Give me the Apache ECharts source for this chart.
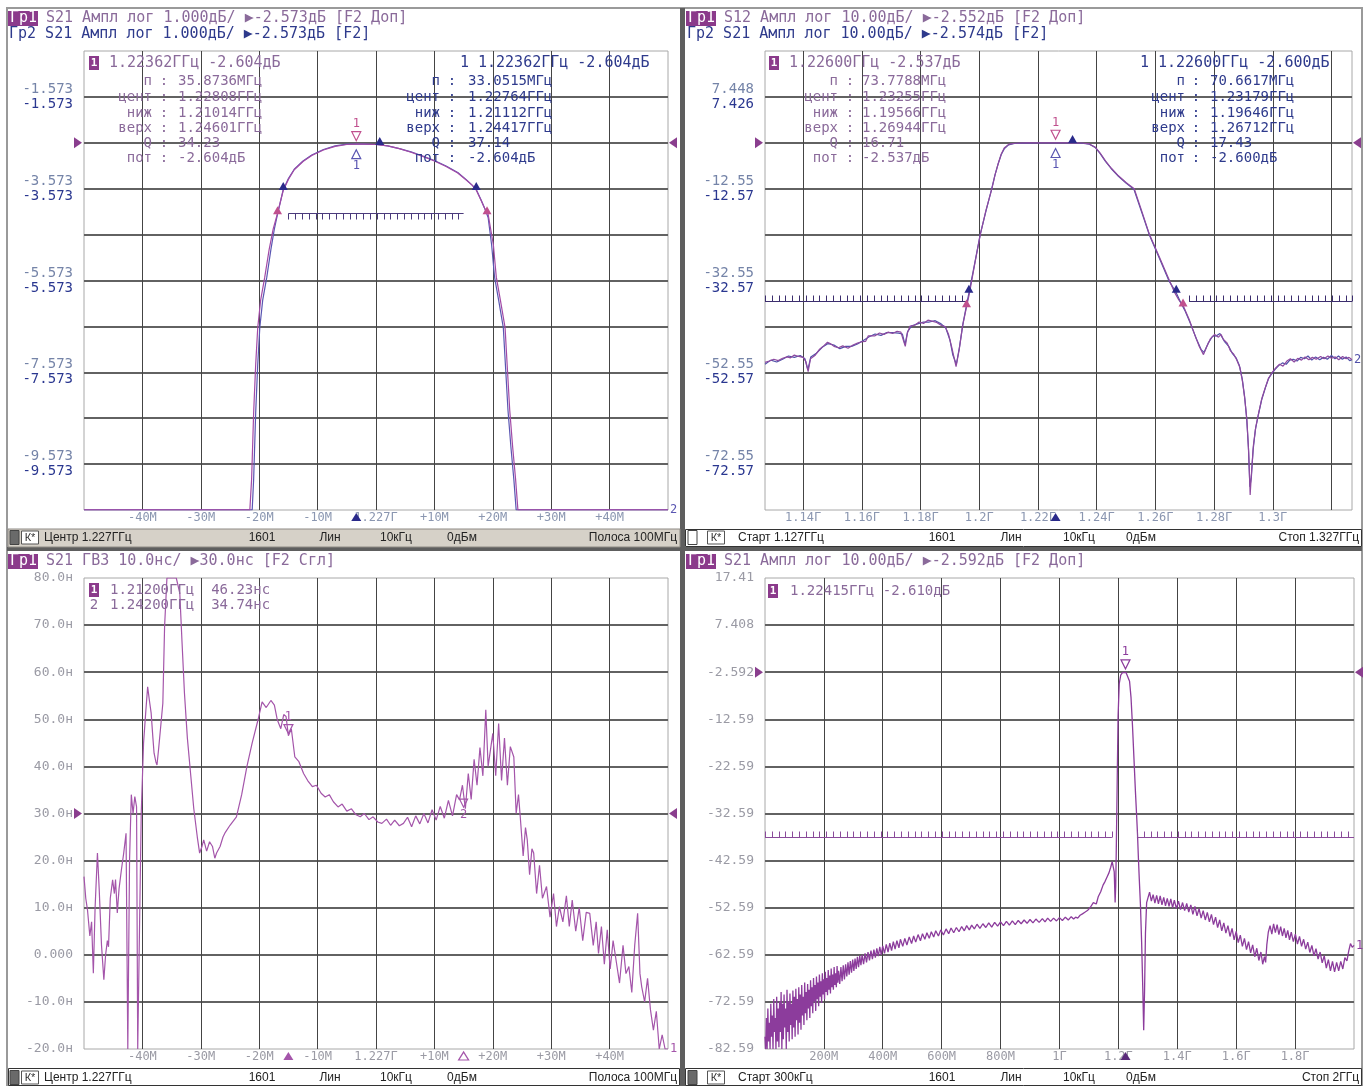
<!DOCTYPE html>
<html><head><meta charset="utf-8">
<script src="https://cdn.jsdelivr.net/npm/echarts@6/dist/echarts.min.js"></script>
<style>html,body{margin:0;padding:0;background:#fff}#c{width:1369px;height:1086px}</style>
</head><body><div id="c"></div><script>
// ---------------- DATA ----------------
// Top-left: S21, 1 dB/div, centre 1.227 GHz, span 100 MHz (freq in MHz, value dB)
const tlTrace1 = [[1177,-10.57],[1190,-10.57],[1200,-10.57],[1205.4,-10.57],[1205.7,-9.9],[1206.05,-8.45],[1206.4,-7.4],[1206.75,-6.6],[1207.25,-6.0],[1207.95,-5.5],[1208.7,-4.9],[1209.4,-4.45],[1210.1,-4.13],[1211.1,-3.62],[1212,-3.37],[1213,-3.16],[1214.5,-2.98],[1216,-2.85],[1218,-2.73],[1220,-2.65],[1222,-2.61],[1223.6,-2.6],[1225,-2.6],[1227,-2.61],[1229,-2.64],[1231,-2.7],[1233,-2.78],[1235,-2.87],[1237,-2.97],[1239,-3.09],[1241,-3.23],[1242.5,-3.39],[1243.5,-3.5],[1244.2,-3.61],[1245,-3.83],[1245.6,-4.0],[1246.2,-4.13],[1247.1,-4.8],[1247.6,-5.5],[1248.3,-6.0],[1249.1,-6.6],[1249.5,-7.5],[1249.9,-8.4],[1250.4,-9.2],[1250.9,-9.9],[1251.3,-10.57],[1260,-10.57],[1277,-10.57]];
const tlTrace2 = [[1177,-10.57],[1190,-10.57],[1200,-10.57],[1205.8,-10.57],[1206.05,-9.9],[1206.4,-8.45],[1206.75,-7.4],[1207.1,-6.6],[1207.6,-6.0],[1208.3,-5.5],[1209.0,-4.9],[1209.6,-4.45],[1210.1,-4.15],[1211.1,-3.6],[1212,-3.35],[1213,-3.15],[1214.5,-2.97],[1216,-2.84],[1218,-2.72],[1220,-2.64],[1222,-2.6],[1223.6,-2.6],[1225,-2.6],[1227,-2.61],[1229,-2.64],[1231,-2.7],[1233,-2.77],[1235,-2.86],[1237,-2.96],[1239,-3.08],[1241,-3.22],[1242.5,-3.38],[1243.5,-3.5],[1244.2,-3.6],[1245,-3.82],[1245.6,-4.0],[1246.2,-4.2],[1246.8,-4.8],[1247.3,-5.5],[1248.0,-6.0],[1248.8,-6.6],[1249.2,-7.5],[1249.6,-8.4],[1250.1,-9.2],[1250.6,-9.9],[1251.0,-10.57],[1260,-10.57],[1277,-10.57]];
const tlLimit = [[1212,1242,-4.1,1]];
const tlMarker = [1223.62,-2.604];
const tlBw1 = [[1210.14,-4.13],[1246.01,-4.13]];
const tlBw2 = [[1211.12,-3.604],[1244.17,-3.604]];
const tlCentre2 = [1227.64,-2.62];
const tlRef = -2.573;

// Top-right: S12 / S21, 10 dB/div, 1.127 .. 1.327 GHz
const trTrace1 = [[1127,-50.4],[1128.5,-50.1],[1130,-49.7],[1131.5,-50.0],[1133,-49.5],[1134.5,-49.2],[1135.7,-49.4],[1137,-48.8],[1138.5,-49.1],[1140,-49.3],[1140.9,-50.2],[1141.7,-52.4],[1142.5,-49.6],[1144,-48.9],[1145.5,-47.6],[1147,-46.8],[1148.3,-46.0],[1149.2,-46.3],[1150.5,-46.9],[1152,-47.2],[1153.5,-46.8],[1155.3,-47.3],[1157,-46.6],[1158.5,-46.2],[1160,-45.9],[1161.3,-45.8],[1162.2,-44.6],[1162.8,-44.3],[1164.5,-44.6],[1166,-44.0],[1167.5,-44.3],[1169,-43.8],[1170.5,-44.1],[1172,-43.6],[1173.3,-43.8],[1174.1,-45.5],[1174.8,-46.9],[1175.5,-44.0],[1176.4,-42.5],[1178,-42.3],[1179.5,-41.6],[1181,-41.9],[1182.5,-41.2],[1183.9,-41.4],[1185.5,-41.7],[1187,-42.3],[1188.4,-42.6],[1189.5,-44.2],[1190.6,-47.0],[1192.1,-51.3],[1193.2,-47.5],[1194.3,-42.5],[1195.6,-38.5],[1196.7,-35.2],[1198.5,-28.8],[1200.4,-22.4],[1202.3,-17.2],[1204.3,-12.55],[1205.4,-9.5],[1206.5,-7.0],[1207.5,-5.0],[1208.5,-3.7],[1210,-2.9],[1212,-2.65],[1216,-2.58],[1220,-2.55],[1226,-2.54],[1231,-2.55],[1235,-2.6],[1237.5,-2.8],[1239.5,-3.5],[1241.2,-4.8],[1243,-6.5],[1245,-8.1],[1247.5,-9.8],[1250,-11.2],[1252.8,-12.55],[1255.4,-17.5],[1258,-22.55],[1261.4,-27.5],[1264.8,-32.55],[1266.6,-35.2],[1268,-36.8],[1269.6,-38.2],[1271.5,-41],[1273.5,-44.5],[1275,-47.0],[1276.4,-48.7],[1277.5,-47.0],[1278.8,-45.2],[1280.2,-44.3],[1281.5,-44.9],[1282.4,-44.3],[1283.2,-45.4],[1284.5,-46.2],[1285.6,-47.9],[1286.7,-48.6],[1287.7,-49.8],[1288.8,-51.5],[1289.7,-54.6],[1290.5,-58.5],[1291.2,-63.0],[1291.8,-70.0],[1292.3,-79.3],[1292.8,-74.0],[1293.4,-68.5],[1294.2,-64.5],[1295.2,-61.4],[1296.3,-58.2],[1297.5,-55.8],[1298.6,-53.8],[1299.7,-52.7],[1301,-51.6],[1302.3,-50.8],[1303.5,-51.2],[1304.8,-50.1],[1306,-49.6],[1307.3,-50.3],[1308.5,-49.5],[1309.8,-49.9],[1311,-49.2],[1312.3,-49.8],[1313.5,-49.3],[1314.8,-49.7],[1316.3,-49.1],[1317.5,-49.6],[1318.8,-49.0],[1320,-49.5],[1321.3,-49.2],[1322.5,-49.8],[1323.8,-49.1],[1325,-49.6],[1326,-49.3],[1327,-49.8]];
const trTrace2 = [[1127,-50.8],[1129,-49.9],[1131,-50.3],[1133,-49.7],[1135,-49.0],[1137,-49.3],[1139,-48.9],[1140.6,-49.6],[1141.6,-52.0],[1142.6,-49.2],[1144.5,-48.4],[1146.5,-47.1],[1148.5,-46.3],[1150.5,-46.6],[1152.5,-47.4],[1154.5,-46.9],[1156.5,-46.9],[1158.5,-46.4],[1160.5,-45.6],[1162.5,-44.8],[1164.5,-44.2],[1166.5,-44.5],[1168.5,-43.9],[1170.5,-43.9],[1172.5,-44.0],[1173.8,-44.2],[1174.7,-46.5],[1175.6,-43.7],[1177,-42.4],[1179,-42.0],[1181,-41.6],[1183,-41.6],[1185,-41.3],[1187,-42.0],[1188.6,-42.9],[1190,-45.5],[1191,-48.8],[1192.2,-50.8],[1193.3,-46.9],[1194.5,-41.8],[1195.7,-37.8],[1196.5,-35.2],[1198.4,-29.0],[1200.3,-22.6],[1202.3,-17.4],[1204.2,-12.7],[1205.3,-9.7],[1206.4,-7.2],[1207.5,-5.1],[1208.6,-3.8],[1210,-3.0],[1212,-2.7],[1216,-2.62],[1220,-2.6],[1226,-2.6],[1231,-2.6],[1235,-2.65],[1237.5,-2.85],[1239.5,-3.55],[1241.2,-4.9],[1243,-6.6],[1245,-8.2],[1247.5,-9.9],[1250,-11.3],[1252.7,-12.7],[1255.3,-17.6],[1258,-22.7],[1261.3,-27.6],[1264.7,-32.7],[1267.1,-35.2],[1268.6,-37.3],[1270,-39.0],[1272,-42.0],[1274,-45.3],[1275.6,-47.6],[1276.6,-48.2],[1278,-46.2],[1279.5,-44.7],[1280.8,-44.6],[1282,-44.1],[1283.5,-45.8],[1285,-46.9],[1286.2,-48.4],[1287.5,-49.4],[1288.6,-51.0],[1289.6,-54.0],[1290.4,-57.8],[1291.1,-62.5],[1291.7,-68.8],[1292.2,-77.5],[1292.7,-75.5],[1293.3,-69.5],[1294.1,-65.0],[1295.1,-61.8],[1296.2,-58.6],[1297.4,-56.1],[1298.5,-54.0],[1299.6,-52.9],[1300.8,-51.9],[1302,-51.1],[1303.3,-50.5],[1304.6,-50.8],[1305.8,-49.9],[1307,-49.7],[1308.3,-50.1],[1309.5,-49.3],[1310.8,-49.6],[1312,-49.0],[1313.3,-49.9],[1314.6,-49.2],[1316,-49.8],[1317.3,-49.3],[1318.6,-49.7],[1320,-48.9],[1321.2,-49.6],[1322.4,-49.0],[1323.7,-49.7],[1325,-49.2],[1326.2,-50.0],[1327,-49.8]];
const trLimit = [[1127,1195.6,-37,-1],[1271.5,1327,-37,-1]];
const trMarker1 = [1226.0,-2.537];
const trMarker2 = [1226.0,-2.600];
const trBw1 = [[1195.66,-38.4],[1269.44,-38.2]];
const trBw2 = [[1196.46,-35.2],[1267.12,-35.2]];
const trCentre2 = [1231.79,-2.62];
const trRef = -2.552;

// Bottom-left: group delay, 10 ns/div, centre 1.227 GHz, span 100 MHz (ns)
const blTrace = [[1177.0,16.6],[1177.3,12],[1177.6,9.5],[1178.0,4],[1178.3,7],[1178.6,-3.9],[1178.9,10],[1179.3,21.6],[1179.6,14],[1180.0,2],[1180.4,-5.3],[1180.7,0],[1181.0,3],[1181.2,1.7],[1181.5,12],[1181.9,15.9],[1182.2,13],[1182.4,16],[1182.7,8.9],[1183.0,14],[1183.4,18],[1183.8,21.6],[1184.2,25.8],[1184.5,-20],[1184.8,20],[1185.1,34],[1185.4,30],[1185.7,33.6],[1186.0,31.4],[1186.2,-20],[1186.5,-20],[1186.8,30],[1187.2,45],[1187.6,52],[1187.9,56.9],[1188.2,54],[1188.5,51.3],[1188.8,46],[1189.0,42.8],[1189.3,41],[1189.5,40.3],[1189.8,44],[1190.1,48],[1190.5,53.4],[1190.8,69.7],[1191.2,80],[1192.0,80],[1192.8,80],[1193.4,76.8],[1193.8,66],[1194.2,55.6],[1194.7,46],[1195.3,37.8],[1195.8,31],[1196.4,25],[1196.8,21.6],[1197.2,23],[1197.5,24.4],[1198.0,22],[1198.5,24],[1199.0,23],[1199.4,20.5],[1199.7,21.6],[1200.3,23],[1200.8,25],[1201.2,26],[1202.0,27.5],[1203.1,29.3],[1204.0,34],[1204.9,40],[1205.8,45],[1206.8,49.9],[1207.5,53.7],[1208.2,52.5],[1209.0,54],[1209.6,53],[1210.1,49.9],[1210.7,48],[1211.2,51],[1211.6,50.6],[1212.0,46.5],[1212.5,48],[1213.1,42],[1213.8,41],[1214.6,38.5],[1215.3,37],[1216.1,35.7],[1216.8,36],[1217.6,34.3],[1218.3,33.5],[1219.0,34],[1219.7,32.5],[1220.5,31.4],[1221.2,32],[1222.0,30.5],[1222.8,31],[1223.5,29.8],[1224.3,29.3],[1225.0,30],[1225.8,28.7],[1226.5,29.3],[1227.3,28.2],[1228.0,27.9],[1228.8,28.8],[1229.5,27.5],[1230.2,28.6],[1231.0,27.4],[1231.7,27.9],[1232.4,29.2],[1233.1,27.2],[1233.8,29.5],[1234.5,27.8],[1235.2,30],[1235.9,28],[1236.6,30.8],[1237.3,28.6],[1238.0,31.5],[1238.7,29],[1239.4,32.8],[1240.1,29.5],[1240.8,34],[1241.3,32.9],[1241.8,36],[1242.3,31],[1242.8,38.5],[1243.3,33],[1243.8,41.5],[1244.3,36],[1244.8,44],[1245.3,38],[1245.8,52],[1246.2,40],[1246.5,40],[1247.0,47],[1247.5,38],[1248.0,49.1],[1248.5,37],[1249.0,46],[1249.5,36],[1250.0,44.2],[1250.6,42],[1251.0,30],[1251.4,34],[1251.7,29.3],[1252.2,21],[1252.6,27],[1252.9,24.4],[1253.3,17],[1253.7,22.5],[1254.0,21.6],[1254.5,13],[1255.0,19],[1255.5,12],[1256.2,14.5],[1256.8,8],[1257.4,13],[1257.9,6],[1258.4,10.2],[1259.0,7],[1259.6,12.5],[1260.1,6],[1260.6,11.6],[1261.2,5],[1261.8,10],[1262.4,3],[1263.0,9],[1263.6,8.8],[1264.2,2],[1264.7,7],[1265.1,0.3],[1265.6,6],[1266.1,-2],[1266.6,5.3],[1267.1,-3],[1267.6,3],[1268.1,-1.1],[1268.7,-6],[1269.3,2],[1269.8,-4],[1270.3,-2.5],[1270.8,-8],[1271.3,2],[1271.8,8.8],[1272.2,-4],[1272.5,-6.8],[1273.0,-10],[1273.5,-5],[1274.0,-11.7],[1274.5,-16],[1275.0,-12],[1275.5,-20],[1276.0,-17],[1276.5,-20],[1277.0,-20]];
const blMarker1 = [1212.0,46.23];
const blMarker2 = [1242.0,34.74];
const blRef = 30;

// Bottom-right: S21 wideband, 10 dB/div, 0.3 MHz .. 2 GHz
const brTrace = [[0.3,-80],[2.5,-82.59],[5,-76],[7.5,-82.59],[10,-74],[12.5,-81],[15,-77],[17.5,-82.59],[20,-73],[22.5,-80],[25,-75.5],[27.5,-82.59],[30,-72],[32.5,-79],[35,-76],[37.5,-82.59],[40,-71.5],[42.5,-81],[45,-74],[47.5,-82.2],[50,-72.5],[52.5,-79],[55,-70.5],[57.5,-82.59],[60,-73],[62.5,-80.5],[65,-71],[67.5,-78],[70,-74],[72.5,-82.59],[75,-70],[77.5,-79],[80,-72.5],[82.5,-81],[85,-70.8],[87.5,-77.5],[90,-73],[92.5,-80.5],[95,-70.2],[97.5,-78],[100,-71.5],[102.5,-80],[105,-69.8],[107.5,-76.5],[110,-72],[112.5,-79.5],[115,-69.5],[117.5,-77],[120,-71],[122.5,-78.5],[125,-69],[127.5,-75.5],[130,-71.5],[132.5,-77.5],[135,-68.5],[137.5,-75],[140,-70.5],[142.5,-76.5],[145,-68.8],[147.5,-74],[150,-70],[152.5,-76],[155,-68],[157.5,-73.5],[160,-69.5],[162.5,-75],[165,-67.5],[167.5,-72.5],[170,-69],[172.5,-74.5],[175,-67.2],[177.5,-72],[180,-68.5],[182.5,-73.5],[185,-66.8],[187.5,-71.5],[190,-68.2],[192.5,-72.8],[195,-66.5],[197.5,-71],[200,-67.8],[202.5,-72],[205,-66.2],[207.5,-70.5],[210,-67.5],[212.5,-71.2],[215,-65.8],[217.5,-70],[220,-67],[222.5,-70.8],[225,-65.5],[227.5,-69.5],[230,-66.8],[232.5,-70],[235,-65.2],[237.5,-69],[240,-66.5],[242.5,-69.5],[245,-65],[247.5,-68.5],[250,-66],[254,-68.8],[258,-65.2],[262,-68.2],[266,-64.8],[270,-67.8],[274,-64.6],[278,-67.2],[282,-64.2],[286,-66.8],[290,-63.9],[294,-66.4],[298,-63.6],[302,-66.0],[306,-63.4],[310,-65.6],[314,-63.0],[318,-65.2],[322,-62.8],[326,-64.8],[330,-62.6],[335,-64.6],[340,-62.3],[345,-64.2],[350,-62.0],[355,-63.8],[360,-61.7],[365,-63.5],[370,-61.5],[375,-63.2],[380,-61.2],[385,-62.9],[390,-60.9],[395,-62.6],[400,-60.7],[406,-62.3],[412,-60.4],[418,-62.0],[424,-60.1],[430,-61.7],[436,-59.8],[442,-61.4],[448,-59.6],[455,-61.1],[460,-59.3],[468,-60.8],[475,-59.1],[482,-60.5],[490,-58.8],[498,-60.2],[505,-58.6],[512,-59.9],[520,-58.3],[528,-59.6],[535,-58.1],[543,-59.3],[550,-57.9],[558,-59.1],[565,-57.7],[573,-58.8],[580,-57.5],[589,-58.6],[597,-57.3],[606,-58.4],[615,-57.1],[624,-58.1],[632,-56.9],[641,-57.9],[650,-56.8],[659,-57.7],[668,-56.6],[677,-57.5],[685,-56.4],[694,-57.3],[702,-56.3],[711,-57.1],[720,-56.1],[730,-57.0],[740,-56.0],[750,-56.8],[760,-55.8],[770,-56.7],[780,-55.7],[790,-56.5],[800,-55.6],[810,-56.4],[820,-55.5],[830,-56.3],[840,-55.4],[850,-56.2],[860,-55.3],[870,-56.0],[880,-55.2],[890,-55.9],[900,-55.1],[910,-55.8],[920,-55.0],[931,-55.7],[942,-54.9],[951,-55.6],[960,-54.8],[970,-55.5],[980,-54.8],[990,-55.4],[1000,-54.7],[1010,-55.3],[1020,-54.6],[1030,-55.2],[1040,-54.5],[1048,-55.0],[1055,-54.6],[1062,-54.8],[1070,-54.2],[1078,-53.9],[1085,-53.6],[1095,-53.2],[1105,-52.5],[1115,-51.5],[1125,-51.8],[1132,-50.2],[1140,-49.2],[1148,-47.8],[1155,-47.0],[1162,-46.0],[1168,-45.2],[1174,-44.0],[1179,-42.8],[1183,-42.5],[1186,-45],[1189,-51.5],[1191,-48],[1193,-40],[1196,-26],[1199,-12],[1203,-5],[1208,-3.2],[1214,-2.7],[1220,-2.6],[1226,-2.65],[1232,-3.0],[1238,-4.5],[1243,-8],[1248,-14],[1253,-21],[1258,-28],[1262,-33],[1265,-37],[1268,-42],[1271,-46.5],[1275,-52],[1279,-60],[1283,-70],[1286,-78.6],[1289,-70],[1292,-58],[1296,-51.5],[1300,-50.6],[1306,-49.3],[1312,-51.2],[1318,-49.8],[1324,-51.6],[1330,-50.0],[1336,-51.8],[1342,-50.1],[1348,-52.0],[1354,-50.4],[1360,-52.2],[1366,-50.6],[1372,-52.3],[1378,-50.7],[1384,-52.6],[1390,-51.0],[1397,-52.8],[1404,-51.2],[1411,-53.0],[1418,-51.5],[1425,-53.2],[1432,-51.7],[1439,-53.5],[1446,-52.0],[1453,-54.0],[1460,-52.3],[1467,-54.3],[1474,-52.8],[1481,-54.8],[1488,-53.2],[1495,-55.2],[1502,-53.6],[1509,-55.6],[1516,-54.0],[1523,-56.2],[1530,-54.6],[1537,-56.8],[1544,-55.2],[1551,-57.5],[1558,-55.8],[1565,-58.0],[1572,-56.4],[1579,-58.7],[1586,-57.0],[1593,-59.4],[1600,-57.6],[1607,-60.0],[1614,-58.4],[1621,-60.8],[1628,-59.1],[1635,-61.5],[1642,-59.8],[1649,-62.2],[1656,-60.5],[1663,-63.0],[1670,-61.2],[1677,-63.8],[1684,-62.0],[1690,-64.6],[1696,-63.0],[1700,-64.2],[1704,-60.5],[1709,-57.8],[1715,-56.4],[1721,-58.2],[1727,-56.0],[1733,-57.9],[1739,-56.2],[1745,-58.3],[1751,-56.6],[1757,-58.6],[1763,-57.0],[1769,-59.0],[1775,-57.4],[1781,-59.4],[1787,-57.8],[1794,-59.8],[1801,-58.2],[1808,-60.3],[1815,-58.7],[1822,-60.8],[1829,-59.3],[1836,-61.4],[1843,-59.9],[1850,-62.1],[1857,-60.6],[1864,-62.8],[1871,-61.3],[1878,-63.5],[1885,-62.0],[1892,-64.3],[1899,-62.8],[1906,-65.4],[1913,-63.6],[1920,-66.0],[1927,-64.0],[1934,-66.2],[1941,-64.2],[1948,-66.0],[1955,-64.0],[1962,-65.6],[1969,-63.2],[1976,-63.9],[1982,-61.8],[1988,-60.2],[1994,-61.0],[2000,-60.6]];
const brLimit = [[0.3,1178,-37.6,-1],[1263,2000,-37.6,-1]];
const brMarker = [1224.15,-2.61];
const brRef = -2.592;

// Tick positions and labels
const tlXTicks = [1187,1197,1207,1217,1227,1237,1247,1257,1267];
const tlXLabels = ['-40М','-30М','-20М','-10М','1.227Г','+10М','+20М','+30М','+40М'];
const trXTicks = [1140,1160,1180,1200,1220,1240,1260,1280,1300,1320];
const trXLabelVals = [1140,1160,1180,1200,1220,1240,1260,1280,1300];
const trXLabels = ['1.14Г','1.16Г','1.18Г','1.2Г','1.22Г','1.24Г','1.26Г','1.28Г','1.3Г'];
const brXTicks = [200,400,600,800,1000,1200,1400,1600,1800];
const brXLabels = ['200М','400М','600М','800М','1Г','1.2Г','1.4Г','1.6Г','1.8Г'];

const tlYTicks = [-9.573,-8.573,-7.573,-6.573,-5.573,-4.573,-3.573,-2.573,-1.573];
const tlYLabelVals = [-9.573,-7.573,-5.573,-3.573,-1.573];
const tlYLabels1 = ['-9.573','-7.573','-5.573','-3.573','-1.573'];
const tlYLabels2 = ['-9.573','-7.573','-5.573','-3.573','-1.573'];
const trYTicks = [-72.552,-62.552,-52.552,-42.552,-32.552,-22.552,-12.552,-2.552,7.448];
const trYLabelVals = [-72.552,-52.552,-32.552,-12.552,7.448];
const trYLabels1 = ['-72.55','-52.55','-32.55','-12.55','7.448'];
const trYLabels2 = ['-72.57','-52.57','-32.57','-12.57','7.426'];
const blYLabelVals = [-20,-10,0,10,20,30,40,50,60,70,80];
const blYLabels = ['-20.0н','-10.0н','0.000','10.0н','20.0н','30.0н','40.0н','50.0н','60.0н','70.0н','80.0н'];
const brYLabelVals = [-82.592,-72.592,-62.592,-52.592,-42.592,-32.592,-22.592,-12.592,-2.592,7.408,17.408];
const brYLabels = ['-82.59','-72.59','-62.59','-52.59','-42.59','-32.59','-22.59','-12.59','-2.592','7.408','17.41'];

// Marker tables (text)
const tableKeys = ['п','цент','ниж','верх','Q','пот'];
const tlTabL = ['35.8736МГц','1.22808ГГц','1.21014ГГц','1.24601ГГц','34.23','-2.604дБ'];
const tlTabR = ['33.0515МГц','1.22764ГГц','1.21112ГГц','1.24417ГГц','37.14','-2.604дБ'];
const trTabL = ['73.7788МГц','1.23255ГГц','1.19566ГГц','1.26944ГГц','16.71','-2.537дБ'];
const trTabR = ['70.6617МГц','1.23179ГГц','1.19646ГГц','1.26712ГГц','17.43','-2.600дБ'];

// ---------------- STYLE ----------------
const MONO = "'DejaVu Sans Mono', monospace";
const C1 = '#a24aa6', C2 = '#5a56b2', CBR = '#8c3c9c', CBL = '#a455aa';
const T1 = '#8a6a9a', T2 = '#2e3a8c';
const DOWN = 'path://M0,0L10,0L5,9Z', RIGHT = 'path://M0,0L9,5L0,10Z', LEFT = 'path://M9,0L0,5L9,10Z';

function lookup(vals, labs){ return function(v){ for (let i=0;i<vals.length;i++){ if (Math.abs(vals[i]-v)<1e-6) return labs[i]; } return ''; }; }
function lookup2(vals, l1, l2){ return function(v){ for (let i=0;i<vals.length;i++){ if (Math.abs(vals[i]-v)<1e-6) return '{a|'+l1[i]+'}\n{b|'+l2[i]+'}'; } return ''; }; }

function xAx(gi, min, max, ticks, labVals, labs, color){
  return {gridIndex:gi, type:'value', min:min, max:max,
    axisLine:{show:false}, axisTick:{show:false, customValues:ticks},
    splitLine:{show:true, lineStyle:{color:'#444444', width:1}},
    axisLabel:{customValues:labVals, formatter:lookup(labVals, labs), color:color, fontFamily:MONO, fontSize:12, margin:2}};
}
function yAx(gi, min, max, ticks, labVals, fmt, extra){
  const lab = Object.assign({customValues:labVals, formatter:fmt, fontFamily:MONO, fontSize:13, margin:11, color:'#9a9aa4'}, extra||{});
  return {gridIndex:gi, type:'value', min:min, max:max,
    axisLine:{show:false}, axisTick:{show:false, customValues:ticks},
    splitLine:{show:true, lineStyle:{color:'#626262', width:1.8}},
    axisLabel:lab};
}
const richY = {a:{color:'#7584a8', fontFamily:MONO, fontSize:14, lineHeight:15}, b:{color:'#2a3790', fontFamily:MONO, fontSize:14, lineHeight:15}};

function pt(coord, symbol, size, color, offset, label, hollow){
  return {coord:coord, symbol:symbol, symbolSize:size, symbolOffset:offset,
    itemStyle: hollow ? {color:'rgba(0,0,0,0)', borderColor:color, borderWidth:1.2} : {color:color},
    label: label ? {show:true, formatter:label[0], position:label[1], color:color, fontFamily:MONO, fontSize:12, distance:1} : {show:false}};
}
function lineSeries(gi, data, color, lw, marks, endLab){
  const s = {type:'line', xAxisIndex:gi, yAxisIndex:gi, data:data, showSymbol:false, symbol:'none', silent:true,
    lineStyle:{color:color, width:lw}, itemStyle:{color:color}, z:3,
    markPoint:{silent:true, animation:false, data:marks||[]}};
  if (endLab) s.endLabel = {show:true, formatter:endLab, color:color, fontFamily:MONO, fontSize:12, distance:2};
  return s;
}
function limitSeries(gi, segs, color){
  return {type:'custom', xAxisIndex:gi, yAxisIndex:gi, silent:true, data:segs, encode:{x:[0,1], y:2}, z:4,
    renderItem:function(params, api){
      const y = api.value(2), dir = api.value(3);
      const a = api.coord([api.value(0), y]), b = api.coord([api.value(1), y]);
      const yy = Math.round(a[1])+0.5;
      const kids = [{type:'line', shape:{x1:a[0],y1:yy,x2:b[0],y2:yy}, style:{stroke:color,lineWidth:1}}];
      for (let x=a[0]; x<=b[0]+0.5; x+=6.8){ const xx=Math.round(x)+0.5; kids.push({type:'line', shape:{x1:xx,y1:yy,x2:xx,y2:yy+dir*6}, style:{stroke:color,lineWidth:1}}); }
      return {type:'group', children:kids};
    }};
}

// ---------------- GRAPHIC (frames, headers, tables, status bars) ----------------
const G = [];
function rect(x,y,w,h,fill,stroke,lw,z){ G.push({type:'rect', silent:true, z:z||1, shape:{x:x,y:y,width:w,height:h}, style:{fill:fill||'none', stroke:stroke||'none', lineWidth:lw||1}}); }
function text(x,y,s,fill,font,align){ G.push({type:'text', silent:true, z:100, x:x, y:y, style:{text:s, fill:fill, font:font, textAlign:align||'left', textVerticalAlign:'middle'}}); }
const F15 = "15px 'DejaVu Sans Mono'", F14 = "14px 'DejaVu Sans Mono'", FS = "12px 'Liberation Sans'";

rect(7,8,1355,1078,'none','#9a9a9a',2);
rect(680,8,5,1078,'#5e5e5e');
rect(7,547,1355,4,'#5e5e5e');
// status bars
rect(8,529,672,18,'#d6d1c8','#8e8a84',1);
rect(685.5,529.5,676,17,'#ffffff','#333333',1);
rect(8.5,1068.5,671,17,'#ffffff','#333333',1);
rect(685.5,1068.5,676,17,'#ffffff','#333333',1);
function bar(x0,y,dark,kx,items){
  rect(x0+2,y-7,9,14,dark?'#6a6a6a':'#ffffff','#444',1,2);
  rect(kx+0.5,y-6.5,17,13,'#ffffff','#555',1,2);
  text(kx+9,y,'К*','#333',"11px 'Liberation Sans'",'center');
  items.forEach(function(it){ text(it[0],y,it[1],'#222',FS,it[2]||'left'); });
}
bar(8,537.5,true,21,[[44,'Центр 1.227ГГц'],[262,'1601','center'],[330,'Лин','center'],[396,'10кГц','center'],[462,'0дБм','center'],[677,'Полоса 100МГц','right']]);
bar(686,537.5,false,707,[[738,'Старт 1.127ГГц'],[942,'1601','center'],[1011,'Лин','center'],[1079,'10кГц','center'],[1141,'0дБм','center'],[1359,'Стоп 1.327ГГц','right']]);
bar(8,1077.5,true,21,[[44,'Центр 1.227ГГц'],[262,'1601','center'],[330,'Лин','center'],[396,'10кГц','center'],[462,'0дБм','center'],[677,'Полоса 100МГц','right']]);
bar(686,1077.5,true,707,[[738,'Старт 300кГц'],[942,'1601','center'],[1011,'Лин','center'],[1079,'10кГц','center'],[1141,'0дБм','center'],[1359,'Стоп 2ГГц','right']]);

// headers
function header(x,y,rest,col){ rect(x,y-7,30,15,'#8b3a8b',null,1,2); text(x+2,y+0.5,'Гр1','#ffffff',F15); text(x+38,y+0.5,rest,col,F15); }
header(8,18,'S21 Ампл лог 1.000дБ/ ▶-2.573дБ [F2 Доп]',T1);
text(9,34.5,'Гр2 S21 Ампл лог 1.000дБ/ ▶-2.573дБ [F2]',T2,F15);
header(686,18,'S12 Ампл лог 10.00дБ/ ▶-2.552дБ [F2 Доп]',T1);
text(687,34.5,'Гр2 S21 Ампл лог 10.00дБ/ ▶-2.574дБ [F2]',T2,F15);
header(8,561,'S21 ГВЗ 10.0нс/ ▶30.0нс [F2 Сгл]',T1);
header(686,561,'S21 Ампл лог 10.00дБ/ ▶-2.592дБ [F2 Доп]',T1);

// marker tables
const rowY = [81,97.5,113,128.5,143.5,158.5];
function mbox(x,y){ rect(x,y-7,10,14,'#8b3a8b',null,1,50); text(x+5,y,'1','#ffffff',"bold 11px 'DejaVu Sans Mono'",'center'); }
function table(hx,head,keyX,colX,valX,vals,col,boxed){
  if (boxed) mbox(hx,63); else text(hx+2,63,'1',col,F15);
  text(hx+20,63,head,col,F15);
  tableKeys.forEach(function(k,i){ text(keyX,rowY[i],k,col,F14,'right'); text(colX,rowY[i],':',col,F14,'center'); text(valX,rowY[i],vals[i],col,F14); });
}
table(89,'1.22362ГГц -2.604дБ',152,164,178,tlTabL,T1,true);
table(458,'1.22362ГГц -2.604дБ',440,452,468,tlTabR,T2,false);
table(769,'1.22600ГГц -2.537дБ',838,850,862,trTabL,T1,true);
table(1138,'1.22600ГГц -2.600дБ',1185,1196,1210,trTabR,T2,false);
mbox(89,590); text(110,590,'1.21200ГГц  46.23нс',T1,F14);
text(94,605,'2',T1,F14,'center'); text(110,605,'1.24200ГГц  34.74нс',T1,F14);
mbox(768,591); text(790,591,'1.22415ГГц -2.610дБ',T1,F14);

// ---------------- OPTION ----------------
const gridBase = {show:true, borderColor:'#a8a8a8', borderWidth:1, backgroundColor:'rgba(0,0,0,0)'};
const PUR = '#8a3e8e', NAVY = '#2a2a8a', PINK = '#c0508e';
const option = {
  animation:false,
  backgroundColor:'#ffffff',
  grid:[
    Object.assign({left:84, top:51, width:584, height:459}, gridBase),
    Object.assign({left:765, top:51, width:587, height:459}, gridBase),
    Object.assign({left:84, top:578, width:584, height:471}, gridBase),
    Object.assign({left:765, top:578, width:589, height:471}, gridBase)
  ],
  xAxis:[
    xAx(0,1177,1277,tlXTicks,tlXTicks,tlXLabels,'#8a96b0'),
    xAx(1,1127,1327,trXTicks,trXLabelVals,trXLabels,'#8a96b0'),
    xAx(2,1177,1277,tlXTicks,tlXTicks,tlXLabels,'#9a9aa4'),
    xAx(3,0.3,2000,brXTicks,brXTicks,brXLabels,'#9a9aa4')
  ],
  yAxis:[
    yAx(0,-10.573,-0.573,tlYTicks,tlYLabelVals,lookup2(tlYLabelVals,tlYLabels1,tlYLabels2),{rich:richY}),
    yAx(1,-82.552,17.448,trYTicks,trYLabelVals,lookup2(trYLabelVals,trYLabels1,trYLabels2),{rich:richY}),
    yAx(2,-20,80,blYLabelVals.slice(1,-1),blYLabelVals,lookup(blYLabelVals,blYLabels)),
    yAx(3,-82.592,17.408,brYLabelVals.slice(1,-1),brYLabelVals,lookup(brYLabelVals,brYLabels))
  ],
  series:[
    // top-left
    lineSeries(0,tlTrace2,C2,1.2,[
      pt(tlMarker,'triangle',[9,9],C2,[0,10],['1','bottom'],true),
      pt(tlBw2[0],'triangle',[9,8],NAVY,[0,-4]),
      pt(tlBw2[1],'triangle',[9,8],NAVY,[0,-4]),
      pt(tlCentre2,'triangle',[9,8],NAVY,[0,-4]),
      pt([tlMarker[0],-10.573],'triangle',[10,8],NAVY,[0,7])
    ],'2'),
    lineSeries(0,tlTrace1,C1,1.2,[
      pt(tlMarker,DOWN,[9,9],PINK,[0,-8],['1','top'],true),
      pt(tlBw1[0],'triangle',[9,8],PINK,[0,-4]),
      pt(tlBw1[1],'triangle',[9,8],PINK,[0,-4]),
      pt([1177,tlRef],RIGHT,[8,11],PUR,[-6,0]),
      pt([1277,tlRef],LEFT,[8,11],PUR,[5,0])
    ]),
    limitSeries(0,tlLimit,'#4a3a7c'),
    // top-right
    lineSeries(1,trTrace2,'#5050a8',1.2,[
      pt(trMarker2,'triangle',[9,9],C2,[0,10],['1','bottom'],true),
      pt(trBw2[0],'triangle',[9,8],NAVY,[0,-4]),
      pt(trBw2[1],'triangle',[9,8],NAVY,[0,-4]),
      pt(trCentre2,'triangle',[9,8],NAVY,[0,-4]),
      pt([trMarker1[0],-82.552],'triangle',[10,8],NAVY,[0,7])
    ],'2'),
    lineSeries(1,trTrace1,'#8e4aa0',1.2,[
      pt(trMarker1,DOWN,[9,9],PINK,[0,-8],['1','top'],true),
      pt(trBw1[0],'triangle',[9,8],PINK,[0,-4]),
      pt(trBw1[1],'triangle',[9,8],PINK,[0,-4]),
      pt([1127,trRef],RIGHT,[8,11],PUR,[-6,0]),
      pt([1327,trRef],LEFT,[8,11],PUR,[5,0])
    ]),
    limitSeries(1,trLimit,'#3c2e6e'),
    // bottom-left
    lineSeries(2,blTrace,CBL,1.2,[
      pt(blMarker1,DOWN,[9,9],CBL,[0,-8],['1','top'],true),
      pt(blMarker2,DOWN,[8,8],CBL,[0,12],['2','bottom'],true),
      pt([blMarker1[0],-20],'triangle',[10,8],CBL,[0,7]),
      pt([blMarker2[0],-20],'triangle',[10,8],CBL,[0,7],null,true),
      pt([1177,blRef],RIGHT,[8,11],PUR,[-6,0]),
      pt([1277,blRef],LEFT,[8,11],PUR,[5,0])
    ],'1'),
    // bottom-right
    lineSeries(3,brTrace,CBR,1.3,[
      pt(brMarker,DOWN,[9,9],CBR,[0,-8],['1','top'],true),
      pt([brMarker[0],-82.592],'triangle',[10,8],'#5a2a7a',[0,7]),
      pt([0.3,brRef],RIGHT,[8,11],PUR,[-6,0]),
      pt([2000,brRef],LEFT,[8,11],PUR,[5,0])
    ],'1'),
    limitSeries(3,brLimit,'#8a4a9a')
  ],
  graphic:{elements:G}
};
const chart = echarts.init(document.getElementById('c'), null, {renderer:'canvas'});
chart.setOption(option);
</script></body></html>
